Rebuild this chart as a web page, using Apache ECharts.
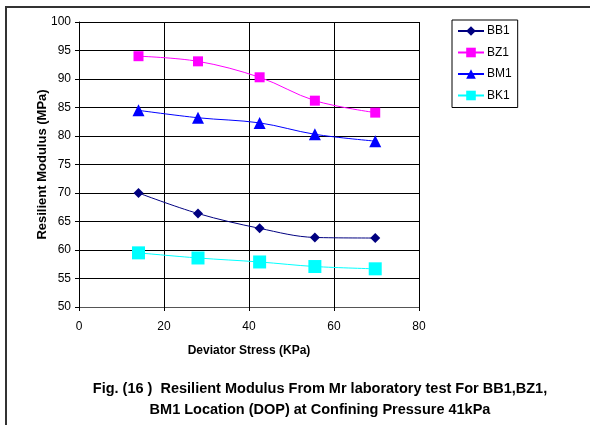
<!DOCTYPE html>
<html>
<head>
<meta charset="utf-8">
<script src="https://cdn.jsdelivr.net/npm/echarts@6/dist/echarts.min.js"></script>
<style>
  html, body { margin: 0; padding: 0; background: #fff; }
  #main { width: 590px; height: 425px; }
</style>
</head>
<body>
<div id="main"></div>
<script>
// 数据
const stress = [14, 28, 42.5, 55.5, 69.7];
const bb1 = [70, 66.4, 63.8, 62.2, 62.1];
const bz1 = [94, 93.1, 90.3, 86.2, 84.1];
const bm1 = [84.5, 83.2, 82.3, 80.3, 79.1];
const bk1 = [59.5, 58.6, 57.9, 57.1, 56.7];
const xTicks = [0, 20, 40, 60, 80];
const yTicks = [50, 55, 60, 65, 70, 75, 80, 85, 90, 95, 100];

let myChart = echarts.init(document.getElementById('main'));

function pairs(ys) {
  return ys.map((y, i) => [stress[i], y]);
}

function makeSeries(name, ys, color, symbol, size, lineColor) {
  return {
    name: name,
    type: 'line',
    smooth: 0.35,
    data: pairs(ys),
    symbol: symbol,
    symbolSize: size,
    lineStyle: { color: lineColor || color, width: 1 },
    itemStyle: { color: color },
    emphasis: { disabled: true },
  };
}

myChart.setOption({
  animation: false,
  textStyle: { fontFamily: 'Liberation Sans, Arial, sans-serif' },
  title: {
    text: 'Fig. (16 )  Resilient Modulus From Mr laboratory test For BB1,BZ1,\nBM1 Location (DOP) at Confining Pressure 41kPa',
    left: 315,
    textAlign: 'center',
    top: 373,
    textStyle: { fontSize: 14.5, fontWeight: 'bold', color: '#000', lineHeight: 21 },
  },
  graphic: [{
    type: 'rect',
    shape: { x: 6, y: 7, width: 600, height: 430 },
    style: { fill: 'none', stroke: '#333', lineWidth: 2 },
    silent: true,
  }],
  legend: {
    orient: 'vertical',
    left: 452,
    top: 20,
    padding: [5, 6, 6, 5],
    itemGap: 9.5,
    itemWidth: 26,
    itemHeight: 12,
    borderColor: '#000',
    borderWidth: 1,
    textStyle: { fontSize: 12, color: '#000', padding: [0, 0, 0, -2] },
    data: ['BB1', 'BZ1', 'BM1', 'BK1'],
  },
  grid: { left: 79, right: 171, top: 22, bottom: 118 },
  xAxis: {
    type: 'value',
    min: 0,
    max: 80,
    interval: 20,
    name: 'Deviator Stress (KPa)',
    nameLocation: 'middle',
    nameGap: 38,
    nameTextStyle: { fontSize: 12, fontWeight: 'bold', color: '#000' },
    axisLine: { show: true, lineStyle: { color: '#555', width: 1 } },
    axisTick: { show: true, length: 4, lineStyle: { color: '#000' } },
    axisLabel: { fontSize: 12, color: '#000', margin: 14,
      formatter: v => xTicks.includes(v) ? String(v) : '' },
    splitLine: { show: true, lineStyle: { color: '#000', width: 1 } },
  },
  yAxis: {
    type: 'value',
    min: 50,
    max: 100,
    interval: 5,
    name: 'Resilient Modulus (MPa)',
    nameLocation: 'middle',
    nameGap: 30,
    nameMoveOverlap: false,
    nameTextStyle: { fontSize: 13, fontWeight: 'bold', color: '#000' },
    axisLine: { show: true, lineStyle: { color: '#000', width: 1 } },
    axisTick: { show: true, length: 4, lineStyle: { color: '#000' } },
    axisLabel: { fontSize: 12, color: '#000', margin: 8,
      formatter: v => yTicks.includes(v) ? String(v) : '' },
    splitLine: { show: true, lineStyle: { color: '#000', width: 1 } },
  },
  series: [
    makeSeries('BB1', bb1, '#000080', 'diamond', 10),
    makeSeries('BZ1', bz1, '#ff00ff', 'rect', 10),
    makeSeries('BM1', bm1, '#0000ff', 'triangle', 12),
    makeSeries('BK1', bk1, '#00ffff', 'rect', 13),
  ],
});
</script>
</body>
</html>
